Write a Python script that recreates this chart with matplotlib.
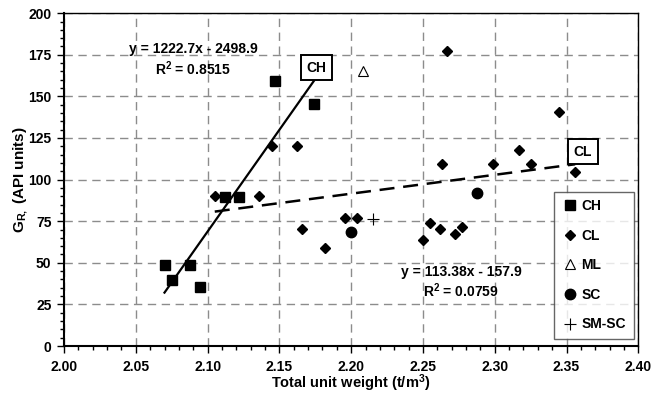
import matplotlib
matplotlib.use("Agg")
import matplotlib.pyplot as plt
import numpy as np
from matplotlib.ticker import MultipleLocator, FormatStrFormatter

plt.rcParams['font.family'] = ['Liberation Sans', 'DejaVu Sans']
plt.rcParams['font.weight'] = 'bold'
plt.rcParams['mathtext.fontset'] = 'custom'
plt.rcParams['mathtext.rm'] = 'Liberation Sans:bold'
plt.rcParams['mathtext.bf'] = 'Liberation Sans:bold'
plt.rcParams['mathtext.it'] = 'Liberation Sans:bold'

# Data
ch_x = [2.147, 2.174, 2.112, 2.122, 2.070, 2.075, 2.088, 2.095]
ch_y = [159.5, 145.2, 89.7, 89.7, 48.7, 39.7, 48.7, 35.6]

cl_x = [2.105, 2.136, 2.166, 2.182, 2.196, 2.204, 2.145, 2.162, 2.267, 2.345,
        2.317, 2.263, 2.299, 2.325, 2.356, 2.250, 2.255, 2.262, 2.272, 2.277]
cl_y = [90.3, 90.3, 70.5, 58.9, 76.7, 76.7, 120.0, 120.0, 177.3, 140.6,
        117.8, 109.4, 109.4, 109.4, 104.4, 63.7, 73.7, 70.1, 67.3, 71.7]

ml_x = [2.208]
ml_y = [165.5]

sc_x = [2.288, 2.200]
sc_y = [91.8, 68.7]

smsc_x = [2.215]
smsc_y = [76.3]

ch_fit = (1222.7, -2498.9)
cl_fit = (113.38, -157.9)

fig = plt.figure(figsize=(6.65, 3.94), dpi=100)
ax = fig.add_axes([64/665, 1-346/394, (638.3-64)/665, (346-13.2)/394])

ax.set_xlim(2.0, 2.4)
ax.set_ylim(0, 200)
ax.xaxis.set_major_locator(MultipleLocator(0.05))
ax.xaxis.set_minor_locator(MultipleLocator(0.01))
ax.yaxis.set_major_locator(MultipleLocator(25))
ax.yaxis.set_minor_locator(MultipleLocator(5))
ax.xaxis.set_major_formatter(FormatStrFormatter('%.2f'))
ax.tick_params(axis='both', which='major', direction='out', length=5, width=1,
               labelsize=10)
ax.tick_params(axis='x', which='major', pad=5)
ax.tick_params(axis='y', which='major', pad=4)
ax.tick_params(axis='both', which='minor', direction='out', length=3, width=1)
for lab in ax.get_xticklabels() + ax.get_yticklabels():
    lab.set_fontweight('bold')
ax.grid(True, which='major', color='#8c8c8c', linestyle=(0, (6, 4)), linewidth=1)
ax.set_axisbelow(True)
for s in ['left', 'bottom']:
    ax.spines[s].set_linewidth(1.5)
for s in ['top', 'right']:
    ax.spines[s].set_linewidth(1.0)

# Trend lines
xs = np.array([min(ch_x), max(ch_x)])
ax.plot(xs, ch_fit[0]*xs + ch_fit[1], color='black', lw=1.6, zorder=3)
xs2 = np.array([min(cl_x), max(cl_x)])
ax.plot(xs2, cl_fit[0]*xs2 + cl_fit[1], color='black', lw=1.8,
        linestyle=(0, (6, 3.5)), zorder=3)

ax.plot(ch_x, ch_y, 's', color='black', ms=6.5, ls='none', label='CH', zorder=4)
ax.plot(cl_x, cl_y, 'D', color='black', ms=5, ls='none', label='CL', zorder=4)
ax.plot(ml_x, ml_y, '^', mfc='white', mec='black', mew=0.8, ms=7, ls='none',
        label='ML', zorder=4)
ax.plot(sc_x, sc_y, 'o', color='black', ms=7.5, ls='none', label='SC', zorder=4)
ax.plot(smsc_x, smsc_y, '+', color='black', mew=0.8, ms=8, ls='none',
        label='SM-SC', zorder=4)

tkw = dict(ha='center', va='center', fontsize=10, fontweight='bold')
ax.text(2.090, 178.3, 'y = 1222.7x - 2498.9', **tkw)
ax.text(2.090, 166.5, 'R$^2$ = 0.8515', **tkw)
ax.text(2.2765, 44.7, 'y = 113.38x - 157.9', **tkw)
ax.text(2.2765, 33.0, 'R$^2$ = 0.0759', **tkw)

box = dict(boxstyle='square,pad=0.42', fc='white', ec='black', lw=1.4)
ax.text(2.176, 167.3, 'CH', bbox=box, zorder=5, **tkw)
ax.text(2.3613, 116.8, 'CL', bbox=box, zorder=5, **tkw)

ax.set_xlabel('Total unit weight (t/m$^3$)', fontsize=10.5, fontweight='bold', labelpad=-1)
ax.set_ylabel('G$_{R,}$ (API units)', fontsize=11, fontweight='bold', labelpad=-1)

leg = ax.legend(loc='lower right', bbox_to_anchor=(0.992, 0.021),
                prop={'size': 10, 'weight': 'bold'},
                frameon=True, fancybox=False, edgecolor='#404040',
                handlelength=1.2, handletextpad=0.2, labelspacing=1.12,
                borderpad=0.55, borderaxespad=0)
leg.get_frame().set_linewidth(1.0)

fig.savefig('out.png', dpi=100)
